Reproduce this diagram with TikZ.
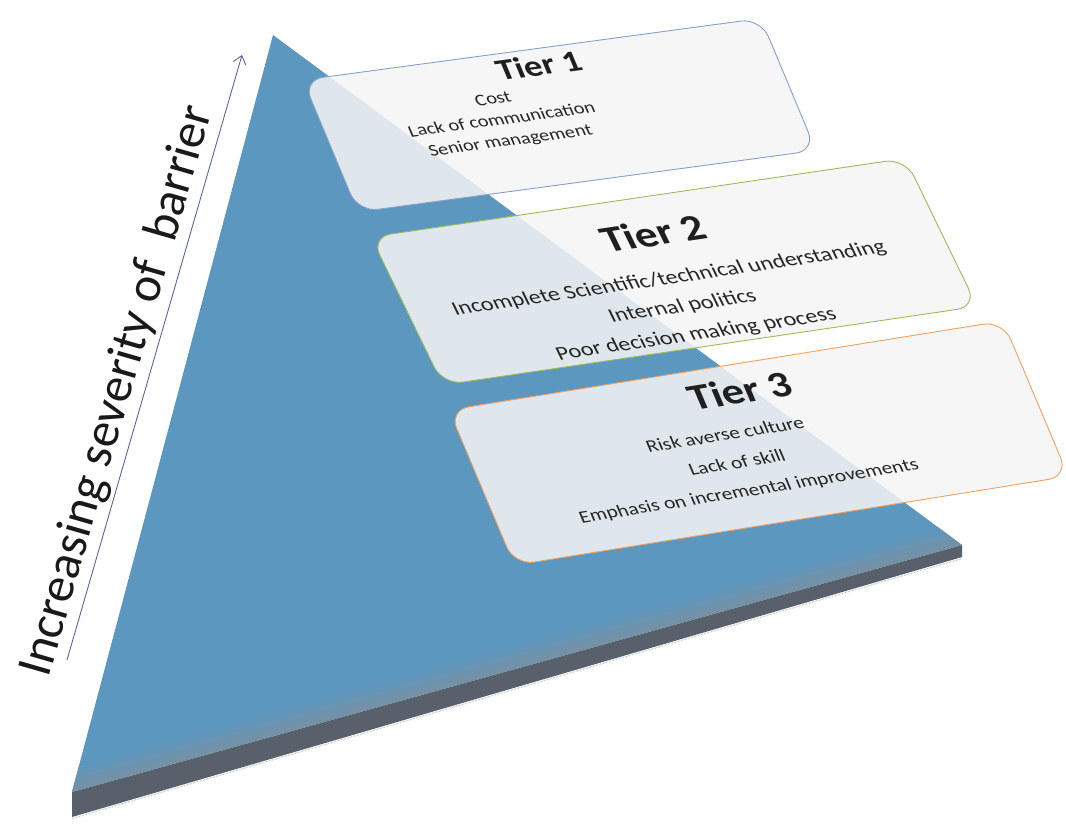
\documentclass[tikz,border=0pt]{standalone}
\usepackage{fontspec}
\setmainfont{Carlito}
\usetikzlibrary{arrows.meta}

\definecolor{pyrblue}{HTML}{5C97BF}
\definecolor{slabgray}{HTML}{58616B}
\definecolor{slabmid}{HTML}{7690A4}
\definecolor{arrowslate}{HTML}{5566A2}
\definecolor{tierone}{HTML}{86A0C8}
\definecolor{tiertwo}{HTML}{9BBB59}
\definecolor{tierthree}{HTML}{F0A060}

\begin{document}
\begin{tikzpicture}[x=1pt,y=1pt,
    tier/.style={fill=black!4, fill opacity=0.86, line width=0.9pt, rounded corners=20pt},
    tierhead/.style={transform shape, inner sep=0pt, text=black!88, font={\fontsize{#1}{#1}\selectfont\bfseries}},
    tieritems/.style 2 args={transform shape, inner sep=0pt, align=center, text=black!85, font={\fontsize{#1}{#2}\selectfont}}]
  \useasboundingbox (0,0) rectangle (1066,825);

  \coordinate (apex) at (273,790);
  \coordinate (lcorner) at (72,33);
  \coordinate (rcorner) at (962,280);
  \coordinate (lfoot) at (72,8);
  \coordinate (rfoot) at (962,268);

  % slab: shadow and front face
  \draw[black!30, line width=1.2pt, dash pattern=on 0.5pt off 1pt] ([yshift=-1.5pt]lfoot) -- ([yshift=-1.5pt]rfoot);
  \fill[slabgray] (lcorner) -- (rcorner) -- (rfoot) -- (lfoot) -- cycle;

  % top face of the pyramid
  \fill[pyrblue] (apex) -- (lcorner) -- (rcorner) -- cycle;
  \begin{scope}
    \clip (apex) -- (lcorner) -- (rcorner) -- cycle;
    \foreach \i [evaluate=\i as \p using int(\i*13)] in {0,...,7}
      \fill[pyrblue!\p!slabmid] ([yshift=\i*3pt]lcorner) -- ([yshift=\i*3pt]rcorner)
        -- ([yshift=\i*3pt+3.5pt]rcorner) -- ([yshift=\i*3pt+3.5pt]lcorner) -- cycle;
  \end{scope}

  % severity arrow
  \coordinate (tail) at (67,165);
  \coordinate (tip) at (242,770);
  \draw[arrowslate, line width=0.9pt, -{Straight Barb[length=8pt,width=13pt]}] (tail) -- (tip);
  \node[rotate=73.9, font={\fontsize{50}{50}\selectfont}, text=black!90] (sevlabel) at (118,434) {Increasing severity of~ barrier};

  % Tier 1
  \begin{scope}[cm={0.9911,0.1333,-0.3333,0.8,(303,745)}]
    \draw[tier, draw=tierone] (0,0) -- (462,0) -- (462,-165) -- (0,-165) -- cycle;
    \node[tierhead=36] (t1head) at (231,-20) {Tier 1};
    \node[tieritems={20}{26}] (t1items) at (174,-80) {Cost\\Lack of communication\\Senior management};
  \end{scope}

  % Tier 2
  \begin{scope}[cm={0.9893,0.1455,-0.389,0.8,(371,588)}]
    \draw[tier, draw=tiertwo] (0,0) -- (540,0) -- (540,-185) -- (0,-185) -- cycle;
    \node[tierhead=44] (t2head) at (268,-44) {Tier 2};
    \node[tieritems={23.5}{35}] (t2items) at (262,-135) {Incomplete Scientific/technical understanding\\Internal politics\\Poor decision making process};
  \end{scope}

  % Tier 3
  \begin{scope}[cm={0.9873,0.1586,-0.3373,0.8,(449,415)}]
    \draw[tier, draw=tierthree] (0,0) -- (561.1,0) -- (561.1,-194) -- (0,-194) -- cycle;
    \node[tierhead=44] (t3head) at (284,-32) {Tier 3};
    \node[tieritems={21}{35}] (t3items) at (252,-117) {Risk averse culture\\Lack of skill\\Emphasis on incremental improvements};
  \end{scope}
\end{tikzpicture}
\end{document}
